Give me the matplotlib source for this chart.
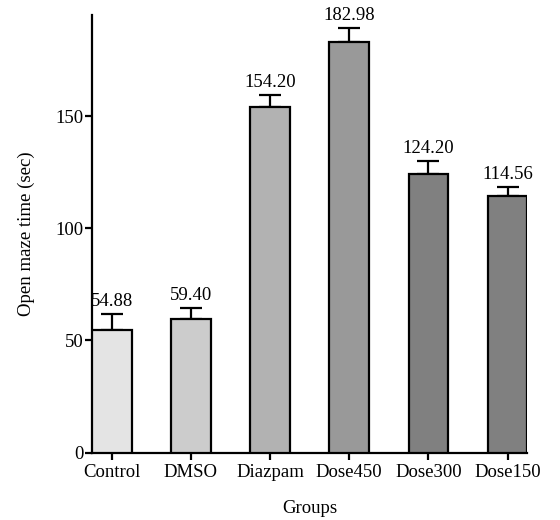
import matplotlib
matplotlib.use("Agg")
import matplotlib.pyplot as plt

groups = ["Control", "DMSO", "Diazpam", "Dose450", "Dose300", "Dose150"]
means = [54.88, 59.40, 154.20, 182.98, 124.20, 114.56]
sems = [6.9, 5.2, 5.1, 6.4, 5.7, 3.9]
labels = ["54.88", "59.40", "154.20", "182.98", "124.20", "114.56"]
colors = ["#e4e4e4", "#cccccc", "#b2b2b2", "#999999", "#808080", "#808080"]
yticks = [0, 50, 100, 150]

plt.rcParams['font.family'] = ['Liberation Serif', 'DejaVu Serif']
fs = 13.5

fig = plt.figure(figsize=(5.6, 5.2), dpi=100)
ax = fig.add_axes([0.1643, 0.1294, 0.7773, 0.8416])
x = list(range(len(groups)))
ax.bar(x, means, width=0.5, color=colors, edgecolor="black", linewidth=1.6, zorder=3)
ax.errorbar(x, means, yerr=[[0]*len(sems), sems], fmt="none", ecolor="black",
            elinewidth=1.6, capsize=8, capthick=1.6, zorder=2)
for xi, m, s, lab in zip(x, means, sems, labels):
    ax.annotate(lab, (xi, m + s), xytext=(0, 3), textcoords="offset points",
                ha="center", va="bottom", fontsize=fs)

ax.set_xlim(-0.25, 5.25)
ax.set_ylim(0, 195)
ax.set_yticks(yticks)
ax.set_xticks(x)
ax.set_xticklabels(groups)
ax.tick_params(axis="both", labelsize=fs, width=1.6, length=5)
ax.tick_params(axis="y", pad=1)
ax.tick_params(axis="x", pad=3)
for sp in ["top", "right"]:
    ax.spines[sp].set_visible(False)
for sp in ["left", "bottom"]:
    ax.spines[sp].set_linewidth(1.6)
ax.set_xlabel("Groups", fontsize=fs, labelpad=14)
ax.set_ylabel("Open maze time (sec)", fontsize=fs, labelpad=15)

fig.savefig("out.png", dpi=100)
